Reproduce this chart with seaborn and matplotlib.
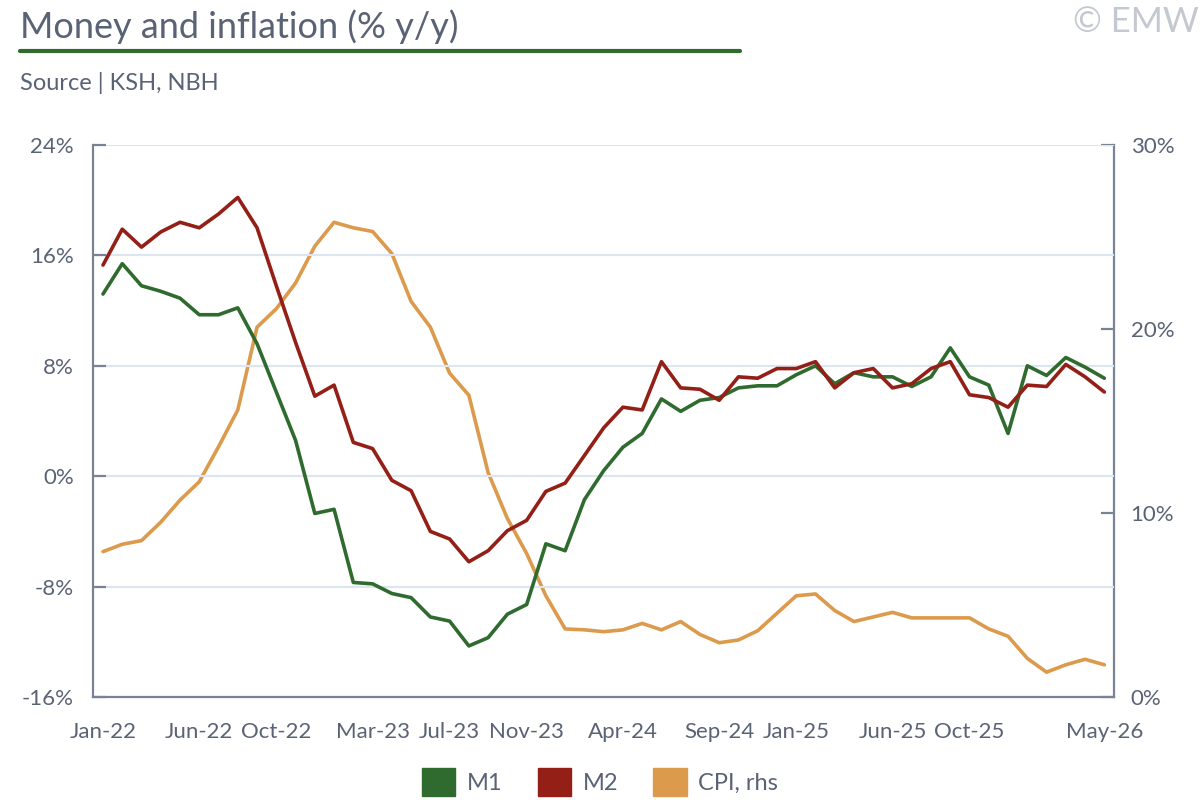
import numpy as np
import pandas as pd
import seaborn as sns
from matplotlib import pyplot as plt
from matplotlib.patches import Patch
from matplotlib.lines import Line2D
import matplotlib.ticker as ticker

# dati (mensili, Jan-22 .. May-26)
months = pd.date_range("2022-01-01", periods=53, freq="MS").strftime("%b-%y").tolist()

m1 = [13.2, 15.4, 13.8, 13.4, 12.9, 11.7, 11.7, 12.2, 9.6, 6.1,
      2.6, -2.7, -2.4, -7.7, -7.8, -8.5, -8.8, -10.2, -10.5, -12.3,
      -11.7, -10.0, -9.3, -4.9, -5.4, -1.7, 0.4, 2.1, 3.1, 5.6,
      4.7, 5.5, 5.7, 6.4, 6.55, 6.55, 7.35, 8.0, 6.7, 7.5,
      7.2, 7.2, 6.5, 7.2, 9.3, 7.2, 6.6, 3.1, 8.0, 7.3,
      8.6, 7.9, 7.1]
m2 = [15.3, 17.9, 16.6, 17.7, 18.4, 18.0, 19.0, 20.2, 18.0, 13.8,
      9.7, 5.8, 6.6, 2.45, 2.0, -0.3, -1.05, -4.0, -4.55, -6.2,
      -5.4, -3.95, -3.2, -1.1, -0.5, 1.5, 3.5, 5.0, 4.8, 8.3,
      6.4, 6.3, 5.5, 7.2, 7.1, 7.8, 7.8, 8.3, 6.4, 7.5,
      7.8, 6.4, 6.7, 7.8, 8.3, 5.9, 5.7, 5.0, 6.6, 6.5,
      8.1, 7.2, 6.1]
cpi = [7.9, 8.3, 8.5, 9.5, 10.7, 11.7, 13.6, 15.6, 20.1, 21.1,
       22.5, 24.5, 25.8, 25.5, 25.3, 24.1, 21.5, 20.1, 17.6, 16.4,
       12.2, 9.7, 7.8, 5.5, 3.7, 3.65, 3.55, 3.65, 4.0, 3.65,
       4.1, 3.4, 2.95, 3.1, 3.6, 4.55, 5.5, 5.6, 4.7, 4.1,
       4.35, 4.6, 4.3, 4.3, 4.3, 4.3, 3.7, 3.3, 2.1, 1.35,
       1.75, 2.05, 1.75]

tick_labels = ["Jan-22", "Jun-22", "Oct-22", "Mar-23", "Jul-23", "Nov-23",
               "Apr-24", "Sep-24", "Jan-25", "Jun-25", "Oct-25", "May-26"]

col_m1 = "#2f6b2e"
col_m2 = "#931f16"
col_cpi = "#dc9a4c"
txt = "#5a6275"
spine = "#7a8396"
grid = "#dce6f0"

df = pd.DataFrame({"idx": np.arange(len(months)), "M1": m1, "M2": m2, "CPI": cpi})

sns.set_style("white")
plt.rcParams["font.family"] = ["Lato", "DejaVu Sans"]

fig = plt.figure(figsize=(12, 8), dpi=100)
ax = fig.add_axes([0.0778, 0.12875, 0.8505, 0.69])
ax2 = ax.twinx()

sns.lineplot(data=df, x="idx", y="M1", color=col_m1, lw=2.6, ax=ax, zorder=3)
sns.lineplot(data=df, x="idx", y="M2", color=col_m2, lw=2.6, ax=ax, zorder=4)
sns.lineplot(data=df, x="idx", y="CPI", color=col_cpi, lw=2.6, ax=ax2, zorder=2)

n = len(months)
ax.set_xlim(-0.5, n - 0.5)
ax.set_ylim(-16, 24)
ax2.set_ylim(0, 30)
ax.set_yticks(np.arange(-16, 25, 8))
ax2.set_yticks([0, 10, 20, 30])
ax.yaxis.set_major_formatter(ticker.FormatStrFormatter("%d%%"))
ax2.yaxis.set_major_formatter(ticker.FormatStrFormatter("%d%%"))

ax.set_xticks([months.index(t) for t in tick_labels])
ax.set_xticklabels(tick_labels)
ax.set_xticks(np.arange(0.5, n - 1, 1), minor=True)
ax.tick_params(axis="x", which="major", length=0, pad=18, labelsize=16, labelcolor=txt)
ax.tick_params(axis="x", which="minor", direction="in", length=9.5, width=1.6, color=spine)
ax.tick_params(axis="y", direction="in", length=9.5, width=1.6, color=spine,
               labelsize=16, labelcolor=txt, pad=14)
ax2.tick_params(axis="y", direction="in", length=9.5, width=1.6, color=spine,
                labelsize=16, labelcolor=txt, pad=12)

ax.grid(True, axis="y", color=grid, lw=1.5)
ax.set_axisbelow(True)
ax.set_xlabel("")
ax.set_ylabel("")
ax2.set_ylabel("")
for a in (ax, ax2):
    for s in a.spines.values():
        s.set_visible(False)
for a, side in ((ax, "left"), (ax, "bottom"), (ax2, "right")):
    a.spines[side].set_visible(True)
    a.spines[side].set_color(spine)
    a.spines[side].set_linewidth(1.6)
ax.set_zorder(ax2.get_zorder() + 1)
ax.patch.set_visible(False)

# titolo, fonte e copyright
fig.text(20 / 1200, 1 - 38 / 800, "Money and inflation (% y/y)", fontsize=26, color=txt)
fig.add_artist(Line2D([20 / 1200, 740 / 1200], [1 - 51 / 800] * 2, color=col_m1, lw=3))
fig.text(20 / 1200, 1 - 90 / 800, "Source | KSH, NBH", fontsize=17, color=txt)
fig.text(1199 / 1200, 1 - 32 / 800, "© EMW", fontsize=25, color="#c4c8d0", ha="right")

handles = [Patch(color=col_m1, label="M1"), Patch(color=col_m2, label="M2"),
           Patch(color=col_cpi, label="CPI, rhs")]
leg = fig.legend(handles=handles, loc="center", bbox_to_anchor=(0.5, 0.0225), ncol=3,
                 frameon=False, fontsize=17, handlelength=1.4, handleheight=1.4,
                 columnspacing=1.5, handletextpad=0.5)
for t in leg.get_texts():
    t.set_color(txt)

fig.savefig("out.png", dpi=100)
